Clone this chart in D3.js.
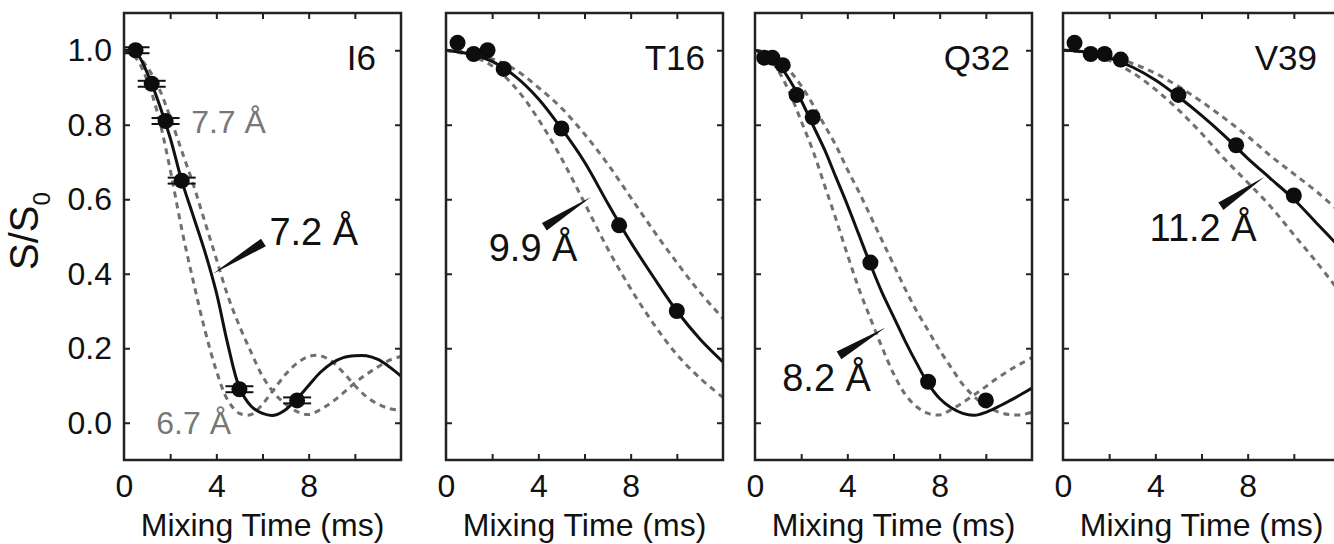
<!DOCTYPE html>
<html>
<head>
<meta charset="utf-8">
<script src="https://cdn.jsdelivr.net/npm/d3@7"></script>
<style>
  body { margin: 0; background: #fff; }
  svg { display: block; font-family: "Liberation Sans", Arial, sans-serif; }
</style>
</head>
<body>
<svg id="chart" width="1334" height="544"></svg>
<script>
// tick values
const xLabelTicks = [0, 4, 8];
const xMinorTicks = [2, 4, 6, 8, 10];
const yTicks = [0, 0.2, 0.4, 0.6, 0.8, 1.0];

// curve sample times (ms)
const fineTimes = [0, 0.5, 1, 1.5, 2, 2.5, 3, 3.5, 4, 4.5, 5, 5.5, 6, 6.5, 7, 7.5, 8, 8.5, 9, 9.5, 10, 10.5, 11, 11.5, 12];
const coarseTimes = [0, 1, 2, 3, 4, 5, 6, 7, 8, 9, 10, 11, 12];

// I6
const i6Times = [0.5, 1.2, 1.8, 2.5, 5.0, 7.5];
const i6Values = [1.0, 0.91, 0.81, 0.65, 0.09, 0.06];
const i6Errors = [0.008, 0.008, 0.008, 0.008, 0.008, 0.008];
const i6Fit = [1.0, 0.995, 0.94, 0.86, 0.765, 0.65, 0.555, 0.46, 0.35, 0.21, 0.095, 0.045, 0.025, 0.02, 0.035, 0.065, 0.1, 0.135, 0.16, 0.175, 0.18, 0.18, 0.17, 0.15, 0.125];
const i6Short = [1.0, 0.98, 0.92, 0.82, 0.68, 0.52, 0.38, 0.25, 0.14, 0.06, 0.025, 0.022, 0.05, 0.09, 0.13, 0.16, 0.178, 0.18, 0.165, 0.135, 0.1, 0.07, 0.05, 0.038, 0.033];
const i6Long = [1.0, 0.99, 0.955, 0.9, 0.82, 0.73, 0.64, 0.54, 0.44, 0.34, 0.26, 0.19, 0.125, 0.08, 0.05, 0.03, 0.022, 0.035, 0.055, 0.08, 0.107, 0.13, 0.15, 0.168, 0.178];

// T16
const t16Times = [0.5, 1.2, 1.8, 2.5, 5.0, 7.5, 10.0];
const t16Values = [1.02, 0.99, 1.0, 0.95, 0.79, 0.53, 0.3];
const t16Fit = [1.0, 0.99, 0.97, 0.93, 0.87, 0.79, 0.7, 0.59, 0.485, 0.39, 0.3, 0.225, 0.163];
const t16Short = [1.0, 0.987, 0.958, 0.9, 0.815, 0.71, 0.59, 0.468, 0.36, 0.265, 0.183, 0.12, 0.068];
const t16Long = [1.0, 0.993, 0.977, 0.948, 0.9, 0.845, 0.775, 0.695, 0.605, 0.515, 0.43, 0.35, 0.28];

// Q32
const q32Times = [0.4, 0.75, 1.2, 1.8, 2.5, 5.0, 7.5, 10.0];
const q32Values = [0.98, 0.98, 0.96, 0.88, 0.82, 0.43, 0.11, 0.06];
const q32Fit = [1.0, 0.99, 0.965, 0.92, 0.865, 0.8, 0.735, 0.66, 0.585, 0.505, 0.425, 0.35, 0.285, 0.22, 0.16, 0.105, 0.065, 0.04, 0.025, 0.02, 0.028, 0.042, 0.058, 0.075, 0.093];
const q32Short = [1.0, 0.985, 0.946, 0.886, 0.81, 0.732, 0.64, 0.548, 0.452, 0.36, 0.28, 0.203, 0.132, 0.077, 0.043, 0.025, 0.021, 0.035, 0.054, 0.075, 0.097, 0.12, 0.14, 0.158, 0.175];
const q32Long = [1.0, 0.993, 0.975, 0.945, 0.905, 0.855, 0.8, 0.745, 0.68, 0.62, 0.555, 0.49, 0.425, 0.36, 0.3, 0.248, 0.195, 0.148, 0.103, 0.07, 0.046, 0.03, 0.022, 0.021, 0.028];

// V39
const v39Times = [0.5, 1.2, 1.8, 2.5, 5.0, 7.5, 10.0];
const v39Values = [1.02, 0.99, 0.99, 0.975, 0.88, 0.745, 0.61];
const v39Fit = [1.0, 0.995, 0.98, 0.955, 0.92, 0.875, 0.825, 0.77, 0.71, 0.655, 0.6, 0.535, 0.47];
const v39Short = [1.0, 0.993, 0.973, 0.94, 0.895, 0.84, 0.777, 0.708, 0.645, 0.58, 0.505, 0.43, 0.35];
const v39Long = [1.0, 0.996, 0.984, 0.965, 0.938, 0.903, 0.862, 0.817, 0.769, 0.716, 0.668, 0.62, 0.565];

const panels = [
  { name: 'I6', times: i6Times, values: i6Values, errors: i6Errors, curveTimes: fineTimes,
    fit: i6Fit, short: i6Short, long: i6Long, nameInset: 25,
    notes: [
      { text: '7.7 Å', x: 2.91, y: 0.777, color: '#777', size: 32 },
      { text: '7.2 Å', x: 6.3, y: 0.477, color: '#111', size: 38 },
      { text: '6.7 Å', x: 1.4, y: -0.03, color: '#777', size: 32 }
    ],
    wedge: { from: [6.04, 0.484], to: [3.85, 0.40] } },
  { name: 'T16', times: t16Times, values: t16Values, curveTimes: coarseTimes,
    fit: t16Fit, short: t16Short, long: t16Long, nameInset: 18,
    notes: [{ text: '9.9 Å', x: 1.85, y: 0.433, color: '#111', size: 38 }],
    wedge: { from: [4.26, 0.526], to: [6.28, 0.606] } },
  { name: 'Q32', times: q32Times, values: q32Values, curveTimes: fineTimes,
    fit: q32Fit, short: q32Short, long: q32Long, nameInset: 22,
    notes: [{ text: '8.2 Å', x: 1.18, y: 0.084, color: '#111', size: 38 }],
    wedge: { from: [3.64, 0.181], to: [5.66, 0.256] } },
  { name: 'V39', times: v39Times, values: v39Values, curveTimes: coarseTimes,
    fit: v39Fit, short: v39Short, long: v39Long, nameInset: 23,
    notes: [{ text: '11.2 Å', x: 3.75, y: 0.488, color: '#111', size: 38 }],
    wedge: { from: [6.84, 0.581], to: [8.72, 0.66] } }
];

const panelLefts = [124, 446, 755, 1063];
const panelTop = 13;
const width = 277;
const height = 447;

const svg = d3.select('#chart');

const x = d3.scaleLinear().domain([0, 12]).range([0, width]);
const y = d3.scaleLinear().domain([-0.1, 1.1]).range([height, 0]);

const line = (times) => d3.line()
  .x((d, i) => x(times[i]))
  .y(d => y(d))
  .curve(d3.curveCatmullRom.alpha(0.5));

panels.forEach((p, i) => {
  const g = svg.append('g')
    .attr('transform', `translate(${panelLefts[i]},${panelTop})`);

  const clipId = `clip-${i}`;
  g.append('clipPath').attr('id', clipId)
    .append('rect').attr('width', width).attr('height', height);

  const plot = g.append('g').attr('clip-path', `url(#${clipId})`);

  [p.short, p.long].forEach(series => {
    plot.append('path')
      .attr('d', line(p.curveTimes)(series))
      .attr('fill', 'none')
      .attr('stroke', '#707070')
      .attr('stroke-width', 3)
      .attr('stroke-dasharray', '6,5');
  });

  plot.append('path')
    .attr('d', line(p.curveTimes)(p.fit))
    .attr('fill', 'none')
    .attr('stroke', '#111')
    .attr('stroke-width', 3);

  if (p.errors) {
    const eb = plot.selectAll('.eb').data(p.values).enter().append('g');
    eb.append('line')
      .attr('x1', (d, k) => x(p.times[k])).attr('x2', (d, k) => x(p.times[k]))
      .attr('y1', (d, k) => y(d - p.errors[k])).attr('y2', (d, k) => y(d + p.errors[k]))
      .attr('stroke', '#111').attr('stroke-width', 2);
    [-1, 1].forEach(sgn => {
      eb.append('line')
        .attr('x1', (d, k) => x(p.times[k]) - 14)
        .attr('x2', (d, k) => x(p.times[k]) + 14)
        .attr('y1', (d, k) => y(d + sgn * p.errors[k]))
        .attr('y2', (d, k) => y(d + sgn * p.errors[k]))
        .attr('stroke', '#111').attr('stroke-width', 2);
    });
  }

  plot.selectAll('circle').data(p.values).enter().append('circle')
    .attr('cx', (d, k) => x(p.times[k]))
    .attr('cy', d => y(d))
    .attr('r', 8)
    .attr('fill', '#0d0d0d');

  // wedge pointer
  const a = [x(p.wedge.from[0]), y(p.wedge.from[1])];
  const b = [x(p.wedge.to[0]), y(p.wedge.to[1])];
  const len = Math.hypot(b[0] - a[0], b[1] - a[1]);
  const nx = -(b[1] - a[1]) / len * 4.5, ny = (b[0] - a[0]) / len * 4.5;
  g.append('path')
    .attr('d', `M${a[0] + nx},${a[1] + ny}L${b[0]},${b[1]}L${a[0] - nx},${a[1] - ny}Z`)
    .attr('fill', '#111');

  p.notes.forEach(n => {
    g.append('text')
      .attr('x', x(n.x)).attr('y', y(n.y))
      .attr('fill', n.color)
      .attr('font-size', n.size)
      .text(n.text);
  });

  g.append('text')
    .attr('x', width - p.nameInset).attr('y', 57)
    .attr('text-anchor', 'end')
    .attr('font-size', 35)
    .attr('fill', '#111')
    .text(p.name);

  // inward ticks on all four sides
  const tick = 6;
  g.append('g').attr('transform', `translate(0,${height})`)
    .call(d3.axisBottom(x).tickValues(xMinorTicks).tickSize(-tick).tickFormat(''));
  g.append('g')
    .call(d3.axisTop(x).tickValues(xMinorTicks).tickSize(-tick).tickFormat(''));
  g.append('g')
    .call(d3.axisLeft(y).tickValues(yTicks).tickSize(-tick).tickFormat(''));
  g.append('g').attr('transform', `translate(${width},0)`)
    .call(d3.axisRight(y).tickValues(yTicks).tickSize(-tick).tickFormat(''));
  g.selectAll('.domain').remove();
  g.selectAll('.tick line').attr('stroke', '#222').attr('stroke-width', 2);

  g.append('rect')
    .attr('width', width).attr('height', height)
    .attr('fill', 'none')
    .attr('stroke', '#222')
    .attr('stroke-width', 2.5);

  // tick labels
  const xl = g.append('g').attr('transform', `translate(0,${height})`)
    .call(d3.axisBottom(x).tickValues(xLabelTicks).tickSize(0).tickPadding(14));
  xl.select('.domain').remove();
  xl.selectAll('text').attr('font-size', 32).attr('fill', '#111')
    .attr('font-family', '"Liberation Sans", Arial, sans-serif');

  if (i === 0) {
    const yl = g.append('g')
      .call(d3.axisLeft(y).tickValues(yTicks).tickSize(0).tickPadding(12).tickFormat(d3.format('.1f')));
    yl.select('.domain').remove();
    yl.selectAll('text').attr('font-size', 32).attr('fill', '#111')
      .attr('font-family', '"Liberation Sans", Arial, sans-serif');
  }

  g.append('text')
    .attr('x', width / 2).attr('y', height + 76)
    .attr('text-anchor', 'middle')
    .attr('font-size', 32)
    .attr('fill', '#111')
    .text('Mixing Time (ms)');
});

// y axis title
const yt = svg.append('text')
  .attr('transform', 'translate(38,270) rotate(-90)')
  .attr('font-size', 40)
  .attr('fill', '#111');
yt.append('tspan').text('S/S');
yt.append('tspan').attr('font-size', 24).attr('dy', 12).text('0');
</script>
</body>
</html>
